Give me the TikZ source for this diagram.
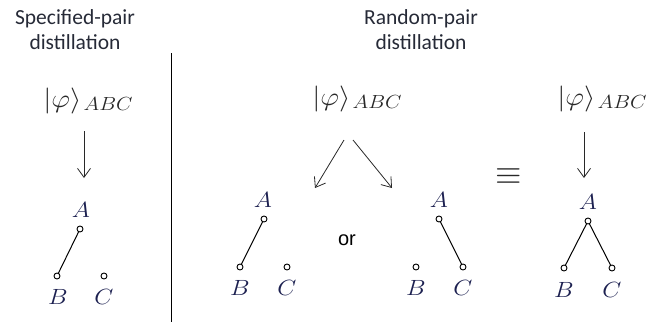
\RequirePackage{fix-cm}
\documentclass[tikz,border=0pt]{standalone}
\usepackage{fontspec}
\newfontfamily\hdrfont{Carlito}
\newfontfamily\orfont{Liberation Sans}
\usetikzlibrary{arrows.meta}
\definecolor{letterblue}{RGB}{28,32,80}
\definecolor{hdrcol}{RGB}{38,42,55}
\definecolor{ketcol}{RGB}{40,40,40}
\newcommand{\myket}{\scalebox{1.12}[1]{{\fontsize{26}{30}\selectfont$|\varphi\rangle$}\hspace{2pt}\raisebox{-3pt}{\fontsize{19}{22}\selectfont$ABC$}}}
\newcommand{\mylet}[1]{\scalebox{1.12}[1]{$#1$}}
\begin{document}
\begin{tikzpicture}[x=1pt,y=-1pt,
  hdr/.style={font=\hdrfont\fontsize{21.5}{25}\selectfont, text=hdrcol, align=center, inner sep=0pt},
  ket/.style={text=ketcol, inner sep=0pt},
  lbl/.style={font=\fontsize{22}{27}\selectfont, text=letterblue, inner sep=0pt},
  qubit/.style={circle, draw=black, line width=0.9pt, fill=white, minimum size=6pt, inner sep=0pt},
  bond/.style={line width=1pt, black},
  arr/.style={line width=0.8pt, ketcol, -{Straight Barb[length=9pt,width=13pt]}}]
\useasboundingbox (0,0) rectangle (666,322);
% headers
\node[hdr] (h1) at (75,30) {Specified-pair\\distillation};
\node[hdr] (h2) at (421,30) {Random-pair\\distillation};
% separator
\coordinate (s1) at (171,53);
\coordinate (s2) at (171,322);
\draw[line width=1pt, black] (s1) -- (s2);
% left panel
\node[ket] (k1) at (88,101) {\myket};
\coordinate (k1a) at (84,131);
\coordinate (k1b) at (84,178);
\draw[arr] (k1a) -- (k1b);
\node[lbl] (la1) at (81,210) {\mylet{A}};
\node[qubit] (a1) at (80,229) {};
\node[qubit] (b1) at (57,276) {};
\node[qubit] (c1) at (104,276) {};
\node[lbl] (lb1) at (58,297) {\mylet{B}};
\node[lbl] (lc1) at (104,297) {\mylet{C}};
\draw[bond] (a1) -- (b1);
% middle panel
\node[ket] (k2) at (357,99) {\myket};
\coordinate (k2l) at (344,140);
\coordinate (k2le) at (315,188);
\coordinate (k2r) at (353,140);
\coordinate (k2re) at (392,188);
\draw[arr] (k2l) -- (k2le);
\draw[arr] (k2r) -- (k2re);
\node[lbl] (la2) at (263,200) {\mylet{A}};
\node[qubit] (a2) at (264,219) {};
\node[qubit] (b2) at (240,267) {};
\node[qubit] (c2) at (287,267) {};
\node[lbl] (lb2) at (240,288) {\mylet{B}};
\node[lbl] (lc2) at (287,288) {\mylet{C}};
\draw[bond] (a2) -- (b2);
\node[font=\orfont\fontsize{20}{24}\selectfont, text=black, inner sep=0pt] (or) at (347,240) {or};
\node[lbl] (la3) at (439,200) {\mylet{A}};
\node[qubit] (a3) at (439,219) {};
\node[qubit] (b3) at (416,267) {};
\node[qubit] (c3) at (463,267) {};
\node[lbl] (lb3) at (416,288) {\mylet{B}};
\node[lbl] (lc3) at (463,288) {\mylet{C}};
\draw[bond] (a3) -- (c3);
% right panel
\node[font=\fontsize{34}{40}\selectfont, text=ketcol, inner sep=0pt] (eq) at (509,177) {$\equiv$};
\node[ket] (k4) at (602,99) {\myket};
\coordinate (k4a) at (584,132);
\coordinate (k4b) at (584,178);
\draw[arr] (k4a) -- (k4b);
\node[lbl] (la4) at (588,202) {\mylet{A}};
\node[qubit] (a4) at (588,221) {};
\node[qubit] (b4) at (564,268) {};
\node[qubit] (c4) at (612,268) {};
\node[lbl] (lb4) at (564,290) {\mylet{B}};
\node[lbl] (lc4) at (612,290) {\mylet{C}};
\draw[bond] (a4) -- (b4);
\draw[bond] (a4) -- (c4);
\end{tikzpicture}
\end{document}
